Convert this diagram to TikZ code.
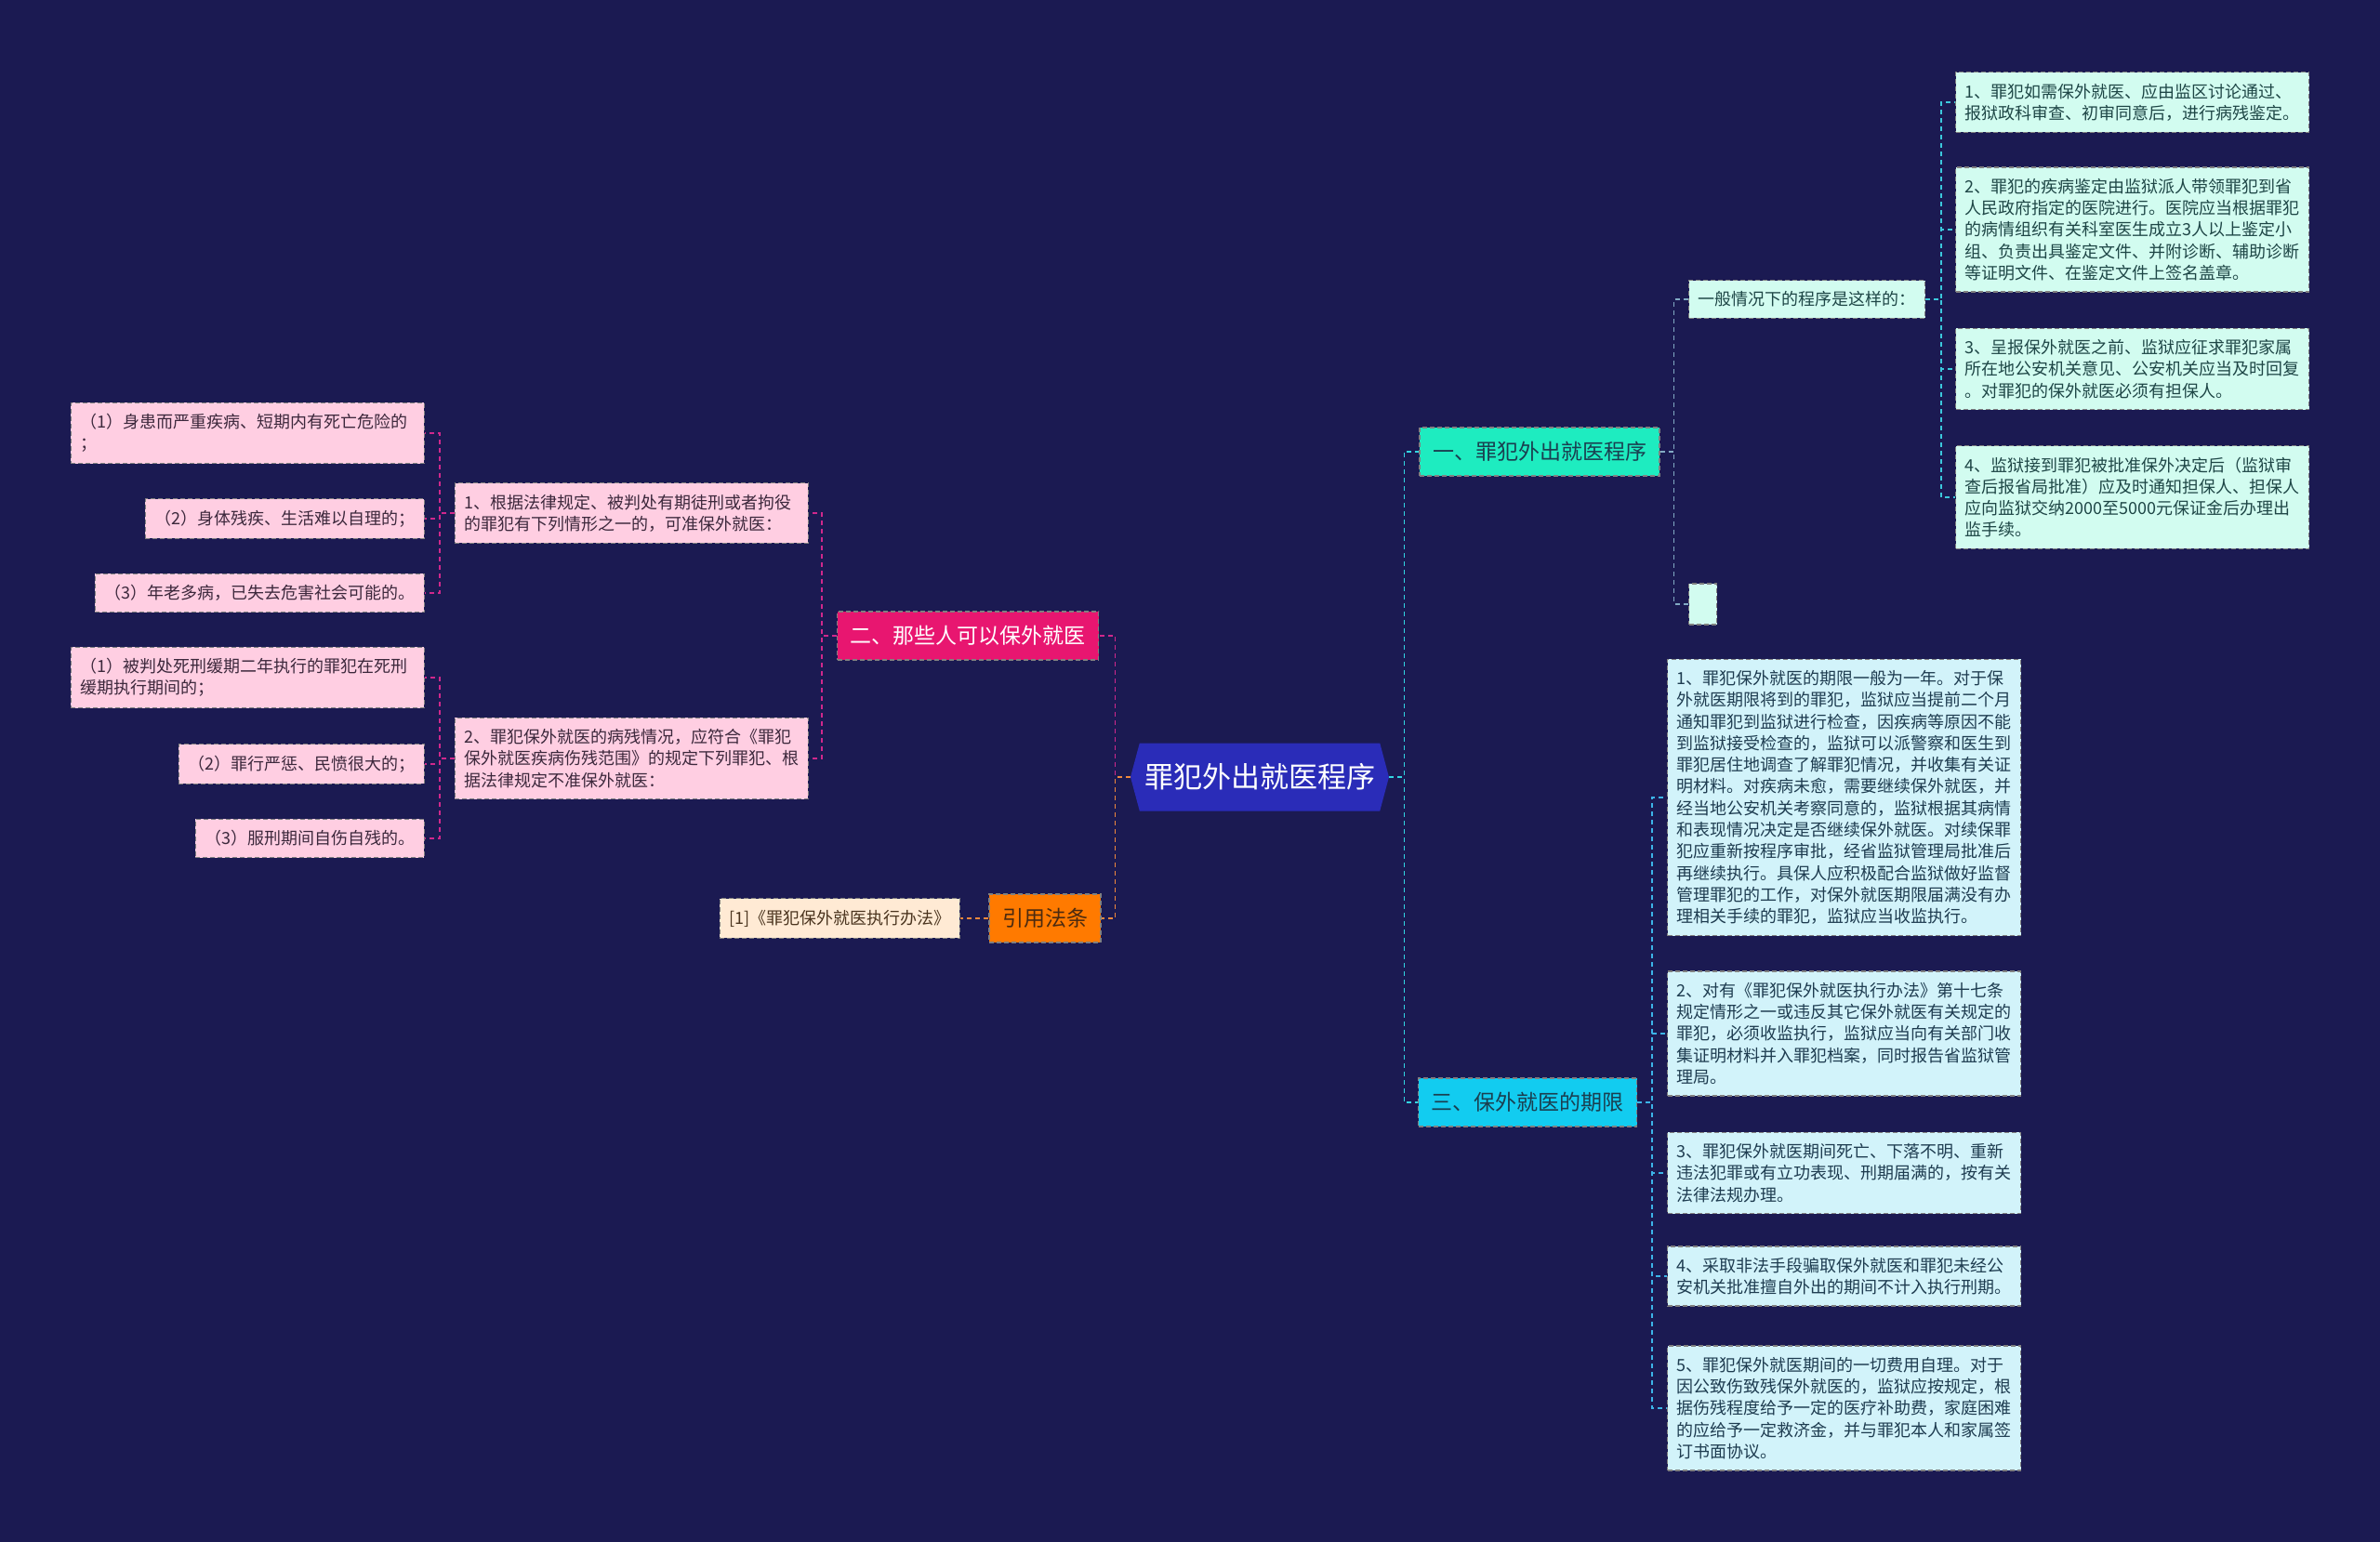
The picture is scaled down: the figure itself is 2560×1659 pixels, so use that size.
\documentclass[tikz,border=0pt]{standalone}
\usepackage{fontspec}
\setmainfont{Noto Sans CJK SC}
\usetikzlibrary{shapes.symbols}

\definecolor{bgblue}{RGB}{27,26,82}
\definecolor{rootblue}{RGB}{42,44,184}
\definecolor{mintbox}{RGB}{30,236,192}
\definecolor{cyanbox}{RGB}{18,204,240}
\definecolor{magbox}{RGB}{232,22,112}
\definecolor{orangebox}{RGB}{255,122,0}
\definecolor{mintleaf}{RGB}{210,252,240}
\definecolor{cyanleaf}{RGB}{210,243,250}
\definecolor{pinkleaf}{RGB}{255,206,226}
\definecolor{peachleaf}{RGB}{255,234,212}
\definecolor{lnmint}{RGB}{50,214,226}
\definecolor{lngrey}{RGB}{130,170,196}
\definecolor{lncyan}{RGB}{60,200,220}
\definecolor{lnblue}{RGB}{60,180,232}
\definecolor{lnmag}{RGB}{208,40,140}
\definecolor{lnorange}{RGB}{240,136,60}

\begin{document}
\begin{tikzpicture}[x=0.5pt, y=-0.5pt,
  box/.style={draw=black!50, dash pattern=on 2.5pt off 1.5pt, line width=0.6pt,
    inner xsep=5pt, inner ysep=6pt, align=left,
    font=\fontsize{9}{11.65}\selectfont},
  lvone/.style={draw=black!50, dash pattern=on 2.5pt off 1.5pt, line width=0.6pt,
    inner xsep=7pt, inner ysep=0pt, minimum height=26pt,
    font=\fontsize{11.5}{13}\selectfont},
  rootbox/.style={signal, signal to=west and east, signal pointer angle=150,
    fill=rootblue, text=white, inner sep=0pt, minimum width=139pt,
    minimum height=36.5pt, font=\fontsize{15.5}{18}\selectfont},
  mintnote/.style={box, fill=mintleaf, text={rgb,255:red,30;green,70;blue,70}},
  cyannote/.style={box, fill=cyanleaf, text={rgb,255:red,30;green,60;blue,80}},
  pinknote/.style={box, fill=pinkleaf, text={rgb,255:red,60;green,40;blue,60}},
  lnk/.style={dash pattern=on 2.5pt off 2pt, line width=0.8pt}]

\fill[bgblue] (0,0) rectangle (2560,1659);
\useasboundingbox (0,0) rectangle (2560,1659);

% centre
\node (root) at (1355,836) [rootbox] {罪犯外出就医程序};

% right hand side
\node (one) at (1656,486) [lvone, fill=mintbox, text={rgb,255:red,26;green,63;blue,80}] {一、罪犯外出就医程序};
\node (three) at (1643,1186) [lvone, fill=cyanbox, text={rgb,255:red,26;green,63;blue,80}] {三、保外就医的期限};

\node (gen) at (1816,322) [mintnote, anchor=west] {一般情况下的程序是这样的：};
\node (blank) at (1816,650) [mintnote, anchor=west, minimum width=15pt, minimum height=22pt] {};

\node (r1) at (2103,110) [mintnote, anchor=west, text width=180pt] {1、罪犯如需保外就医、应由监区讨论通过、\\报狱政科审查、初审同意后，进行病残鉴定。};
\node (r2) at (2103,247) [mintnote, anchor=west, text width=180pt] {2、罪犯的疾病鉴定由监狱派人带领罪犯到省\\人民政府指定的医院进行。医院应当根据罪犯\\的病情组织有关科室医生成立3人以上鉴定小\\组、负责出具鉴定文件、并附诊断、辅助诊断\\等证明文件、在鉴定文件上签名盖章。};
\node (r3) at (2103,397) [mintnote, anchor=west, text width=180pt] {3、呈报保外就医之前、监狱应征求罪犯家属\\所在地公安机关意见、公安机关应当及时回复\\。对罪犯的保外就医必须有担保人。};
\node (r4) at (2103,535) [mintnote, anchor=west, text width=180pt] {4、监狱接到罪犯被批准保外决定后（监狱审\\查后报省局批准）应及时通知担保人、担保人\\应向监狱交纳2000至5000元保证金后办理出\\监手续。};

\node (p1) at (1793,858) [cyannote, anchor=west, text width=180pt] {1、罪犯保外就医的期限一般为一年。对于保\\外就医期限将到的罪犯，监狱应当提前二个月\\通知罪犯到监狱进行检查，因疾病等原因不能\\到监狱接受检查的，监狱可以派警察和医生到\\罪犯居住地调查了解罪犯情况，并收集有关证\\明材料。对疾病未愈，需要继续保外就医，并\\经当地公安机关考察同意的，监狱根据其病情\\和表现情况决定是否继续保外就医。对续保罪\\犯应重新按程序审批，经省监狱管理局批准后\\再继续执行。具保人应积极配合监狱做好监督\\管理罪犯的工作，对保外就医期限届满没有办\\理相关手续的罪犯，监狱应当收监执行。};
\node (p2) at (1793,1112) [cyannote, anchor=west, text width=180pt] {2、对有《罪犯保外就医执行办法》第十七条\\规定情形之一或违反其它保外就医有关规定的\\罪犯，必须收监执行，监狱应当向有关部门收\\集证明材料并入罪犯档案，同时报告省监狱管\\理局。};
\node (p3) at (1793,1262) [cyannote, anchor=west, text width=180pt] {3、罪犯保外就医期间死亡、下落不明、重新\\违法犯罪或有立功表现、刑期届满的，按有关\\法律法规办理。};
\node (p4) at (1793,1373) [cyannote, anchor=west, text width=180pt] {4、采取非法手段骗取保外就医和罪犯未经公\\安机关批准擅自外出的期间不计入执行刑期。};
\node (p5) at (1793,1515) [cyannote, anchor=west, text width=180pt] {5、罪犯保外就医期间的一切费用自理。对于\\因公致伤致残保外就医的，监狱应按规定，根\\据伤残程度给予一定的医疗补助费，家庭困难\\的应给予一定救济金，并与罪犯本人和家属签\\订书面协议。};

% left hand side
\node (two) at (1041,684) [lvone, fill=magbox, text=white] {二、那些人可以保外就医};
\node (cite) at (1124,988) [lvone, fill=orangebox, text={rgb,255:red,74;green,42;blue,16}] {引用法条};
\node (ref) at (1033,988) [box, anchor=east, fill=peachleaf, text={rgb,255:red,74;green,52;blue,30}] {[1]《罪犯保外就医执行办法》};

\node (m1) at (870,552) [pinknote, anchor=east, text width=180pt] {1、根据法律规定、被判处有期徒刑或者拘役\\的罪犯有下列情形之一的，可准保外就医：};
\node (m2) at (870,816) [pinknote, anchor=east, text width=180pt] {2、罪犯保外就医的病残情况，应符合《罪犯\\保外就医疾病伤残范围》的规定下列罪犯、根\\据法律规定不准保外就医：};

\node (a1) at (457,466) [pinknote, anchor=east, text width=180pt] {（1）身患而严重疾病、短期内有死亡危险的\\；};
\node (a2) at (457,558) [pinknote, anchor=east] {（2）身体残疾、生活难以自理的；};
\node (a3) at (457,638) [pinknote, anchor=east] {（3）年老多病，已失去危害社会可能的。};

\node (b1) at (457,729) [pinknote, anchor=east, text width=180pt] {（1）被判处死刑缓期二年执行的罪犯在死刑\\缓期执行期间的；};
\node (b2) at (457,822) [pinknote, anchor=east] {（2）罪行严惩、民愤很大的；};
\node (b3) at (457,902) [pinknote, anchor=east] {（3）服刑期间自伤自残的。};

% connectors, right
\draw[lnk, lnmint] (root.east) -- ++(16,0) |- (one.west);
\draw[lnk, lnmint] (root.east) -- ++(16,0) |- (three.west);

\draw[lnk, lngrey] (one.east) -- ++(15,0) |- (gen.west);
\draw[lnk, lngrey] (one.east) -- ++(15,0) |- (blank.west);

\draw[lnk, lncyan] (gen.east) -- ++(17,0) |- (r1.west);
\draw[lnk, lncyan] (gen.east) -- ++(17,0) |- (r2.west);
\draw[lnk, lncyan] (gen.east) -- ++(17,0) |- (r3.west);
\draw[lnk, lncyan] (gen.east) -- ++(17,0) |- (r4.west);

\draw[lnk, lnblue] (three.east) -- ++(16,0) |- (p1.west);
\draw[lnk, lnblue] (three.east) -- ++(16,0) |- (p2.west);
\draw[lnk, lnblue] (three.east) -- ++(16,0) |- (p3.west);
\draw[lnk, lnblue] (three.east) -- ++(16,0) |- (p4.west);
\draw[lnk, lnblue] (three.east) -- ++(16,0) |- (p5.west);

% connectors, left
\draw[lnk, lnmag] (root.west) -- ++(-16,0) |- (two.east);
\draw[lnk, lnorange] (root.west) -- ++(-16,0) |- (cite.east);
\draw[lnk, lnorange] (cite.west) -- (ref.east);

\draw[lnk, lnmag] (two.west) -- ++(-16,0) |- (m1.east);
\draw[lnk, lnmag] (two.west) -- ++(-16,0) |- (m2.east);

\draw[lnk, lnmag] (m1.west) -- ++(-16,0) |- (a1.east);
\draw[lnk, lnmag] (m1.west) -- ++(-16,0) |- (a2.east);
\draw[lnk, lnmag] (m1.west) -- ++(-16,0) |- (a3.east);

\draw[lnk, lnmag] (m2.west) -- ++(-16,0) |- (b1.east);
\draw[lnk, lnmag] (m2.west) -- ++(-16,0) |- (b2.east);
\draw[lnk, lnmag] (m2.west) -- ++(-16,0) |- (b3.east);

\end{tikzpicture}
\end{document}
